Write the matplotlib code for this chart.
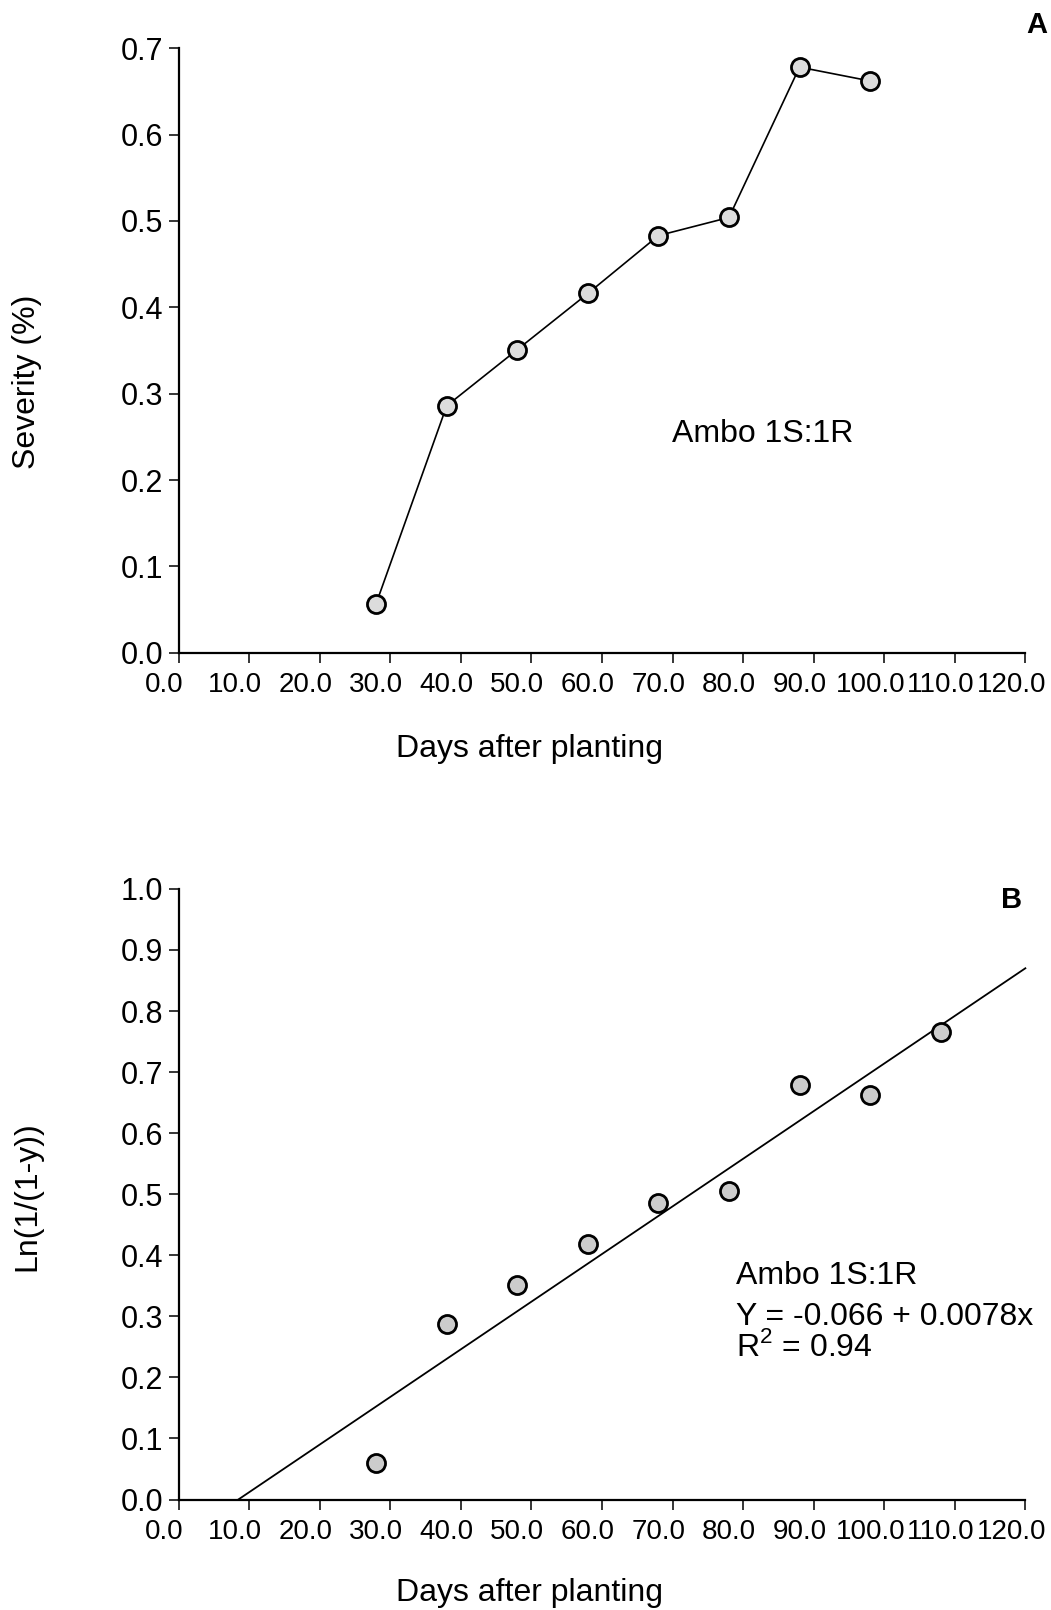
import numpy as np
import matplotlib.pyplot as plt
from matplotlib import font_manager
from matplotlib.transforms import ScaledTranslation

# Disease severity over the season, Ambo 1S:1R plot
days_a = [28, 38, 48, 58, 68, 78, 88, 98]
severity_a = [0.057, 0.286, 0.351, 0.416, 0.483, 0.504, 0.678, 0.662]

# Transformed severity used for the linear fit
days_b = [28, 38, 48, 58, 68, 78, 88, 98, 108]
ln_sev_b = [0.060, 0.288, 0.352, 0.418, 0.485, 0.505, 0.679, 0.663, 0.765]

fit_intercept = -0.066
fit_slope = 0.0078
r_squared = 0.94

x_ticks = np.arange(0, 121, 10)
x_ticklabels = [f"{v:.1f}" for v in x_ticks]

plt.rcParams['font.family'] = ['Liberation Sans', 'DejaVu Sans']
plt.rcParams['mathtext.fontset'] = 'custom'
plt.rcParams['mathtext.rm'] = 'Liberation Sans'

installed = {f.name for f in font_manager.fontManager.ttflist}
if 'Liberation Sans Narrow' in installed:
    xtick_font = dict(family='Liberation Sans Narrow', size=23)
else:
    xtick_font = dict(family='Liberation Sans', size=20)

fig = plt.figure(figsize=(10.51, 16.10), dpi=100)
ax_a = fig.add_axes([0.1699, 0.5945, 0.8057, 0.3756])
ax_b = fig.add_axes([0.1699, 0.0686, 0.8057, 0.3793])

marker_style = dict(marker='o', markersize=13, markeredgecolor='black',
                    markeredgewidth=2.0, clip_on=False, zorder=3)


def style_axes(ax, ylim, yticks):
    ax.set_xlim(0, 120)
    ax.set_ylim(*ylim)
    ax.set_xticks(x_ticks)
    ax.set_xticklabels(x_ticklabels, **xtick_font)
    ax.set_yticks(yticks)
    ax.set_yticklabels([f"{v:.1f}" for v in yticks], fontsize=22)
    for side in ['top', 'right']:
        ax.spines[side].set_visible(False)
    for side in ['left', 'bottom']:
        ax.spines[side].set_linewidth(1.6)
    ax.tick_params(axis='x', direction='out', length=7, width=1.1, pad=7)
    ax.tick_params(axis='y', direction='out', length=7, width=1.1, pad=4)
    # labels sit slightly left of their ticks
    shift = ScaledTranslation(-14 / 100, 0, fig.dpi_scale_trans)
    for lbl in ax.get_xticklabels():
        lbl.set_transform(lbl.get_transform() + shift)


# Panel A: severity progress curve
ax_a.plot(days_a, severity_a, color='black', linewidth=1.2,
          markerfacecolor='#dcdcdc', **marker_style)
style_axes(ax_a, (0, 0.7), np.round(np.arange(0, 0.71, 0.1), 1))
fig.text(672 / 1051, 1 - 442 / 1610, "Ambo 1S:1R", fontsize=23,
         va='baseline', ha='left')

# Panel B: transformed severity with regression line
ax_b.plot(days_b, ln_sev_b, linestyle='none',
          markerfacecolor='#cccccc', **marker_style)
x_start = -fit_intercept / fit_slope
fit_x = np.array([x_start, 120])
ax_b.plot(fit_x, fit_intercept + fit_slope * fit_x, color='black', linewidth=1.3,
          clip_on=False, zorder=2)
style_axes(ax_b, (0, 1.0), np.round(np.arange(0, 1.01, 0.1), 1))
fit_lines = ["Ambo 1S:1R",
             f"Y = {fit_intercept:.3f} + {fit_slope:.4f}x",
             f"R$^2$ = {r_squared:.2f}"]
for line, base in zip(fit_lines, [1284, 1325, 1356]):
    fig.text(736 / 1051, 1 - base / 1610, line, fontsize=23,
             va='baseline', ha='left')

# Axis titles and panel letters
fig.text(27 / 1051, 1 - 382 / 1610, "Severity (%)", rotation=90, fontsize=23,
         ha='center', va='center')
fig.text(27 / 1051, 1 - 1196 / 1610, "Ln(1/(1-y))", rotation=90, fontsize=23,
         ha='center', va='center')
fig.text(530 / 1051, 1 - 757 / 1610, "Days after planting", fontsize=23,
         ha='center', va='baseline')
fig.text(530 / 1051, 1 - 1601 / 1610, "Days after planting", fontsize=23,
         ha='center', va='baseline')
fig.text(1047 / 1051, 1 - 33 / 1610, "A", fontsize=21, fontweight='bold',
         ha='right', va='baseline')
fig.text(1001 / 1051, 1 - 908 / 1610, "B", fontsize=21, fontweight='bold',
         ha='left', va='baseline')

fig.savefig('out.png', dpi=100, facecolor='white')
